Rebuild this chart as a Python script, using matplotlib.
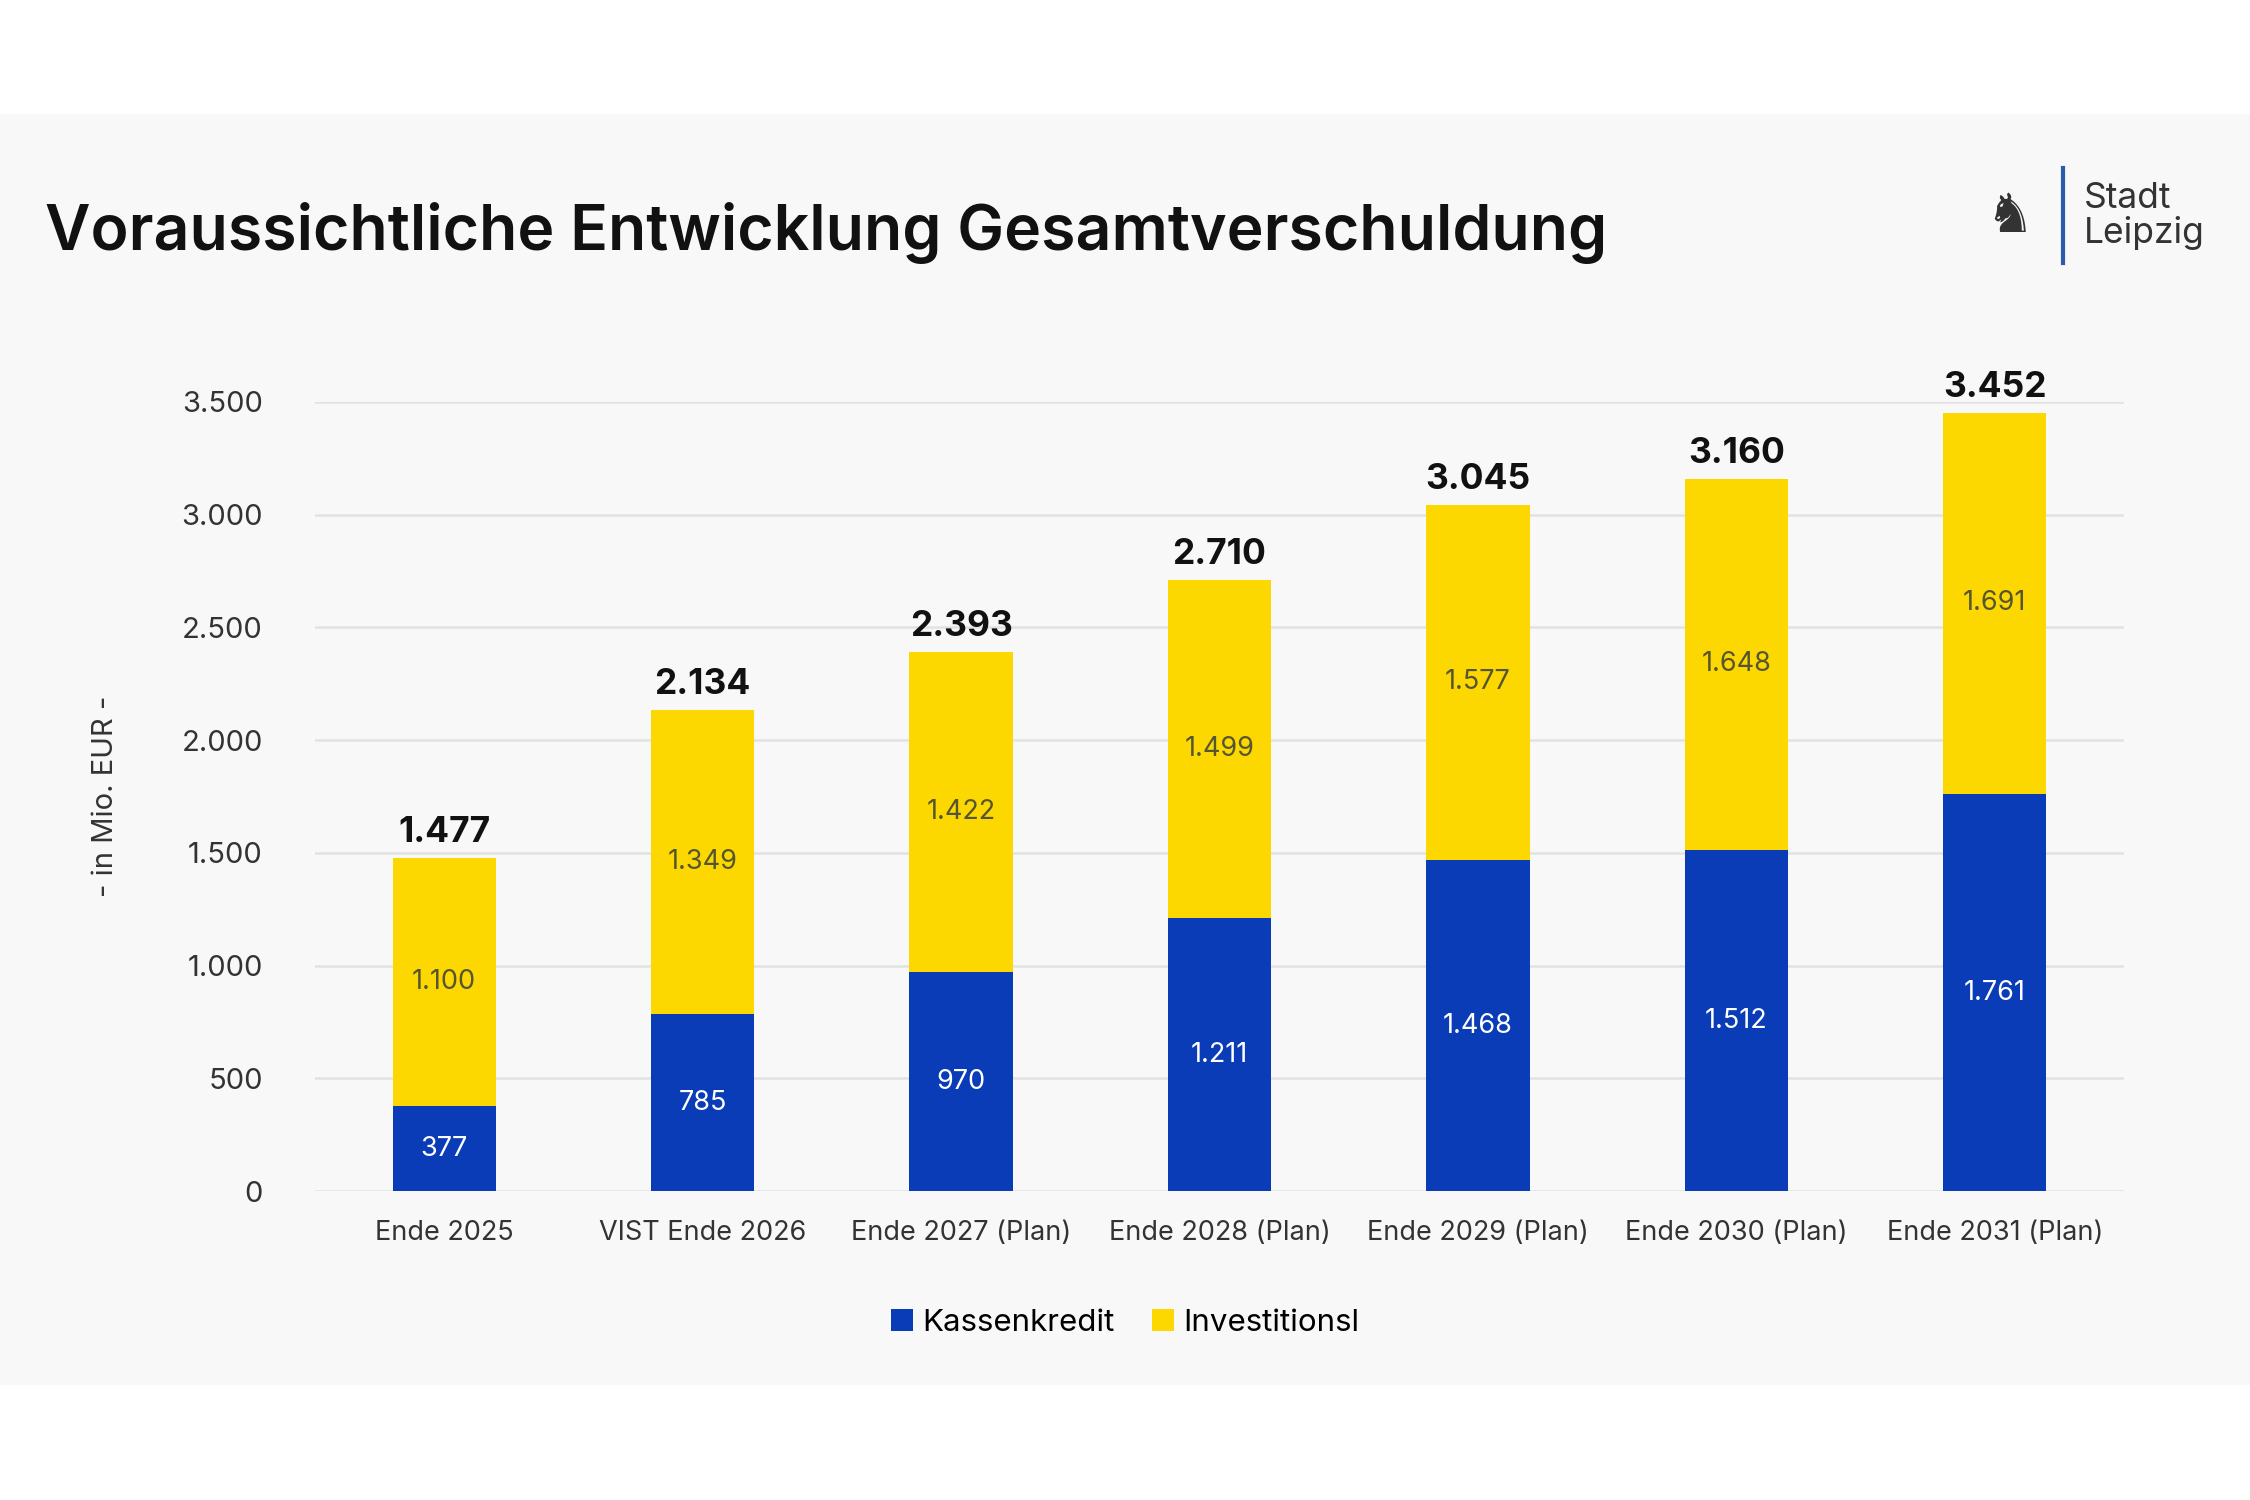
import matplotlib
matplotlib.use("Agg")
import matplotlib.pyplot as plt
import numpy as np
from matplotlib.patches import Rectangle

categories = ["Ende 2025", "VIST Ende 2026", "Ende 2027 (Plan)", "Ende 2028 (Plan)",
              "Ende 2029 (Plan)", "Ende 2030 (Plan)", "Ende 2031 (Plan)"]
kassen = [377, 785, 970, 1211, 1468, 1512, 1761]
invest = [1100, 1349, 1422, 1499, 1577, 1648, 1691]
totals = [1477, 2134, 2393, 2710, 3045, 3160, 3452]
yticks = [0, 500, 1000, 1500, 2000, 2500, 3000, 3500]

def fmt(v):
    return f"{v:,}".replace(",", ".")

plt.rcParams['font.family'] = ['Inter', 'DejaVu Sans']
fig = plt.figure(figsize=(15, 10), dpi=150)
fig.patch.set_facecolor("white")
fig.add_artist(Rectangle((0, 0.077), 1, 0.847, transform=fig.transFigure,
                         facecolor="#f8f8f8", edgecolor="none", zorder=-10))

fig.text(0.02, 0.845, "Voraussichtliche Entwicklung Gesamtverschuldung",
         fontsize=30, color="#111111", va="center", fontweight="semibold")
fig.add_artist(plt.Line2D([0.917, 0.917], [0.825, 0.888], transform=fig.transFigure,
                          color="#2a5cab", lw=2))
fig.text(0.926, 0.856, "Stadt\nLeipzig", fontsize=17, color="#333333", va="center",
         linespacing=1.0)
fig.text(0.893, 0.855, "♞", fontsize=26, color="#333333", va="center", ha="center",
         family=['DejaVu Sans'])

ax = fig.add_axes([0.140, 0.206, 0.804, 0.526])
ax.set_facecolor("#f8f8f8")
x = np.arange(len(categories))
w = 0.4
blue = "#0a3cb8"
yellow = "#fcd800"
ax.bar(x, kassen, w, color=blue, label="Kassenkredit", zorder=3)
ax.bar(x, invest, w, bottom=kassen, color=yellow, label="Investitionsl", zorder=3)
for i in range(len(x)):
    ax.text(x[i], kassen[i] / 2, fmt(kassen[i]), ha="center", va="center",
            color="white", fontsize=13)
    ax.text(x[i], kassen[i] + invest[i] / 2, fmt(invest[i]), ha="center", va="center",
            color="#555533", fontsize=13)
    ax.text(x[i], totals[i] + 40, fmt(totals[i]), ha="center", va="bottom",
            color="#111111", fontsize=17, fontweight="bold")
ax.set_ylim(0, 3500)
ax.set_xlim(-0.5, len(x) - 0.5)
ax.set_yticks(yticks)
ax.set_yticklabels([fmt(v) for v in yticks], fontsize=14, color="#333333")
ax.set_xticks(x)
ax.set_xticklabels(categories, fontsize=13, color="#333333")
ax.tick_params(length=0, pad=14)
ax.tick_params(axis="y", pad=25)
ax.grid(axis="y", color="#e2e2e2", lw=1.2, zorder=0)
for s in ax.spines.values():
    s.set_visible(False)
ax.set_ylabel("- in Mio. EUR -", fontsize=14, color="#333333", labelpad=30)
fig.legend(loc="center", bbox_to_anchor=(0.5, 0.118), ncol=2, frameon=False,
           fontsize=15, handlelength=0.7, handleheight=0.7, handletextpad=0.3,
           columnspacing=1.2)
fig.savefig("out.png", dpi=150, facecolor=fig.get_facecolor())
